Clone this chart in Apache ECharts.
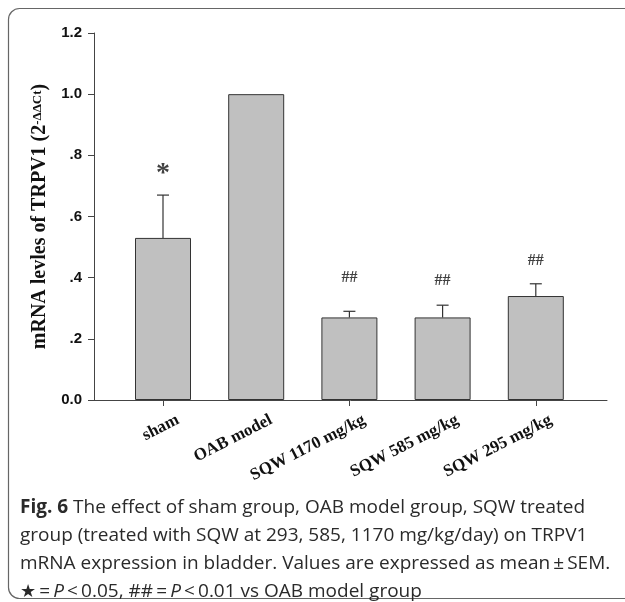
<!DOCTYPE html>
<html><head><meta charset="utf-8">
<script src="https://cdn.jsdelivr.net/npm/echarts@6/dist/echarts.min.js"></script>
<style>html,body{margin:0;padding:0;background:#fff}#c{width:625px;height:602px}</style>
</head><body><div id="c"></div>
<script>
const categories = ["sham", "OAB model", "SQW 1170 mg/kg", "SQW 585 mg/kg", "SQW 295 mg/kg"];
const means = [0.53, 1.0, 0.27, 0.27, 0.34];
const sems = [0.14, 0, 0.02, 0.04, 0.04];
const marks = ["*", "", "##", "##", "##"];
const markLevels = [0.74, null, 0.40, 0.39, 0.455];
const yTicks = [0, 0.2, 0.4, 0.6, 0.8, 1.0, 1.2];

const chart = echarts.init(document.getElementById('c'), null, {renderer: 'canvas'});
const fmtY = v => {
  const s = v.toFixed(1);
  return s.startsWith('0.') && v !== 0 ? s.slice(1) : s;
};
const capFont = {fontFamily: 'Open Sans', fontSize: 19, color: '#2a2a2a', lineHeight: 28};
const option = {
  animation: false,
  backgroundColor: '#fff',
  grid: [
    {left: 94, right: 18, top: 33, bottom: 202},
    {left: 116.4, width: 466, top: 33, bottom: 202},
    {left: 131.4, width: 466, top: 33, bottom: 202}
  ],
  title: {
    left: 20, top: 494, padding: 0,
    text: '{b|Fig. 6} The effect of sham group, OAB model group, SQW treated\n' +
          'group (treated with SQW at 293, 585, 1170 mg/kg/day) on TRPV1\n' +
          'mRNA expression in bladder. Values are expressed as mean{s| }±{s| }SEM.\n' +
          '{st|\u2605}{s| }={s| }{i|P}{s| }<{s| }0.05, ##{s| }={s| }{i|P}{s| }<{s| }0.01 vs OAB model group',
    textStyle: Object.assign({fontWeight: 'normal', rich: {
        b: Object.assign({}, capFont, {fontWeight: 'bold'}),
        i: Object.assign({}, capFont, {fontStyle: 'italic'}),
        s: Object.assign({}, capFont, {fontSize: 12}),
        st: Object.assign({}, capFont, {fontFamily: 'DejaVu Sans', fontSize: 18})
      }}, capFont)
  },
  graphic: [{
    type: 'rect', z: -1,
    shape: {x: 8.5, y: 8.5, width: 660, height: 590, r: 11},
    style: {fill: 'none', stroke: '#666', lineWidth: 1.2}
  }],
  xAxis: [
    {gridIndex: 0, type: 'value', min: 0, max: 1,
     axisLine: {show: true, lineStyle: {color: '#444', width: 1}},
     axisTick: {show: false}, axisLabel: {show: false}, splitLine: {show: false}},
    {gridIndex: 1, type: 'category', data: categories,
     axisLine: {show: false},
     axisTick: {show: true, alignWithLabel: true, length: 6, lineStyle: {color: '#444'}},
     axisLabel: {show: false}, splitLine: {show: false}},
    {gridIndex: 2, type: 'category', data: categories,
     axisLine: {show: false}, axisTick: {show: false},
     axisLabel: {rotate: 27, margin: 19, fontFamily: 'Liberation Serif', fontWeight: 'bold', fontSize: 17, color: '#111'},
     splitLine: {show: false}}
  ],
  yAxis: [
    {gridIndex: 0, type: 'value', min: 0, max: 1.2, interval: 0.2,
     axisLine: {show: true, lineStyle: {color: '#444', width: 1}},
     axisTick: {show: true, inside: false, length: 6, lineStyle: {color: '#444'}},
     axisLabel: {formatter: fmtY, margin: 12, fontFamily: 'Liberation Sans', fontWeight: 'bold', fontSize: 15, color: '#111'},
     splitLine: {show: false},
     name: 'mRNA levles of TRPV1 (2{s|-\u0394\u0394Ct})',
     nameLocation: 'middle', nameGap: 44, nameRotate: 90,
     nameTextStyle: {fontFamily: 'Liberation Serif', fontWeight: 'bold', fontSize: 20, color: '#111',
       rich: {s: {fontFamily: 'Liberation Serif', fontWeight: 'bold', fontSize: 13, color: '#111', padding: [0,0,5,0]}}}},
    {gridIndex: 1, type: 'value', min: 0, max: 1.2, interval: 0.2, show: false, splitLine: {show: false}},
    {gridIndex: 2, type: 'value', min: 0, max: 1.2, interval: 0.2, show: false, splitLine: {show: false}}
  ],
  series: [
    {type: 'bar', xAxisIndex: 1, yAxisIndex: 1, data: means, barWidth: 56,
     itemStyle: {color: '#c0c0c0', borderColor: '#333', borderWidth: 1}},
    {type: 'custom', xAxisIndex: 1, yAxisIndex: 1,
     data: means.map((m, i) => [i, m, m + sems[i]]),
     renderItem: (params, api) => {
       if (api.value(2) === api.value(1)) return null;
       const p0 = api.coord([api.value(0), api.value(1)]);
       const p1 = api.coord([api.value(0), api.value(2)]);
       const hw = 6;
       const st = {stroke: '#333', lineWidth: 1.2};
       return {type: 'group', children: [
         {type: 'line', shape: {x1: p0[0], y1: p0[1], x2: p1[0], y2: p1[1]}, style: st},
         {type: 'line', shape: {x1: p1[0] - hw, y1: p1[1], x2: p1[0] + hw, y2: p1[1]}, style: st}
       ]};
     }, z: 3},
    {type: 'scatter', xAxisIndex: 1, yAxisIndex: 1, symbolSize: 0,
     data: markLevels.map((v, i) => v === null ? null : {value: [i, v], label: {formatter: marks[i],
       fontSize: marks[i] === '*' ? 28 : 16, fontFamily: 'Liberation Serif', fontWeight: 'bold', color: '#111'}}).filter(d => d),
     label: {show: true, position: 'inside', color: '#111'}}
  ]
};
chart.setOption(option);
</script></body></html>
